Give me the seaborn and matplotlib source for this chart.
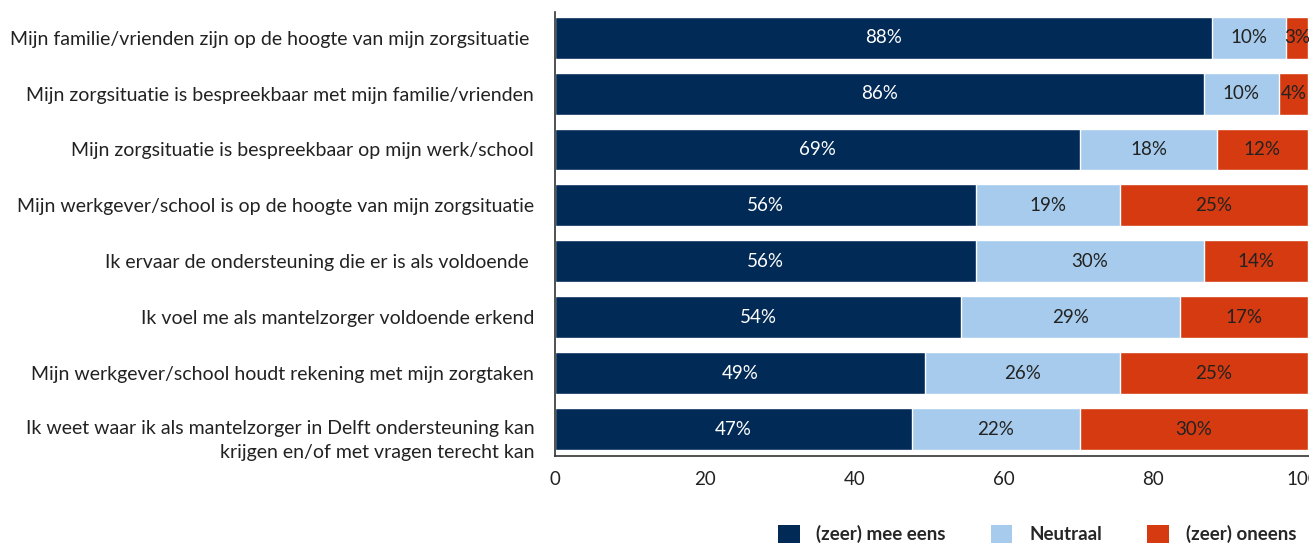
import pandas as pd
import matplotlib
matplotlib.use("Agg")
import matplotlib.pyplot as plt
import matplotlib.transforms as mtransforms
import seaborn as sns
from matplotlib.patches import Patch

statements = [
    "Mijn familie/vrienden zijn op de hoogte van mijn zorgsituatie ",
    "Mijn zorgsituatie is bespreekbaar met mijn familie/vrienden",
    "Mijn zorgsituatie is bespreekbaar op mijn werk/school",
    "Mijn werkgever/school is op de hoogte van mijn zorgsituatie",
    "Ik ervaar de ondersteuning die er is als voldoende ",
    "Ik voel me als mantelzorger voldoende erkend",
    "Mijn werkgever/school houdt rekening met mijn zorgtaken",
    "Ik weet waar ik als mantelzorger in Delft ondersteuning kan\nkrijgen en/of met vragen terecht kan",
]
# bar lengths
eens = [87.8, 86.7, 70.2, 56.3, 56.3, 54.3, 49.4, 47.7]
neutraal = [9.9, 10.1, 18.3, 19.2, 30.4, 29.3, 26.1, 22.5]
oneens = [3.0, 3.9, 12.1, 25.2, 14.0, 17.1, 25.2, 30.4]
# printed labels
eens_lbl = ["88%", "86%", "69%", "56%", "56%", "54%", "49%", "47%"]
neutraal_lbl = ["10%", "10%", "18%", "19%", "30%", "29%", "26%", "22%"]
oneens_lbl = ["3%", "4%", "12%", "25%", "14%", "17%", "25%", "30%"]
series_names = ["(zeer) mee eens", "Neutraal", "(zeer) oneens"]
xticks = [0, 20, 40, 60, 80, 100]

colors = ["#012a57", "#a6cbec", "#d53a10"]
label_colors = ["white", "#222222", "#222222"]

sns.set_style("white")
plt.rcParams["font.family"] = ["Lato", "DejaVu Sans"]

df = pd.DataFrame({"statement": statements, "eens": eens,
                   "neutraal": neutraal, "oneens": oneens})
df["c1"] = df["eens"]
df["c2"] = df["eens"] + df["neutraal"]
df["c3"] = df["c2"] + df["oneens"]

fig = plt.figure(figsize=(13.09, 5.44), dpi=100)
ax = fig.add_axes([0.424, 0.162, 0.576, 0.816])

# stacked by drawing cumulative totals back to front
for col, color in zip(["c3", "c2", "c1"], colors[::-1]):
    sns.barplot(data=df, x=col, y="statement", color=color, width=0.75,
                saturation=1, ax=ax, orient="h")

starts = [[0] * len(df), list(df["c1"]), list(df["c2"])]
labels = [eens_lbl, neutraal_lbl, oneens_lbl]
for k, col in enumerate(["eens", "neutraal", "oneens"]):
    for i, v in enumerate(df[col]):
        ax.text(starts[k][i] + v / 2, i, labels[k][i], ha="center", va="center",
                color=label_colors[k], fontsize=13.5)

ax.set_xlim(0, 100.8)
ax.set_ylim(len(df) - 0.52, -0.46)
ax.set_xticks(xticks)
ax.set_xlabel("")
ax.set_ylabel("")
ax.tick_params(axis="x", length=0, labelsize=13.5, pad=11, colors="#222222")
ax.tick_params(axis="y", length=2, labelsize=14, pad=13, colors="#222222")
for s in ["top", "right"]:
    ax.spines[s].set_visible(False)
for s in ["left", "bottom"]:
    ax.spines[s].set_color("#333333")
    ax.spines[s].set_linewidth(1.2)

# two-line label sits a bit lower, with wider line spacing
last = ax.get_yticklabels()[-1]
last.set_linespacing(1.55)
last.set_transform(last.get_transform() +
                   mtransforms.ScaledTranslation(0, -6 / 100, fig.dpi_scale_trans))

handles = [Patch(facecolor=c, edgecolor="none") for c in colors]
fig.legend(handles, series_names, loc="lower right", bbox_to_anchor=(1.003, -0.03),
           ncol=3, frameon=False, handlelength=1.15, handleheight=1.15,
           columnspacing=2.4, handletextpad=0.9,
           prop={"weight": "bold", "size": 13.5})

fig.savefig("out.png", dpi=100)
